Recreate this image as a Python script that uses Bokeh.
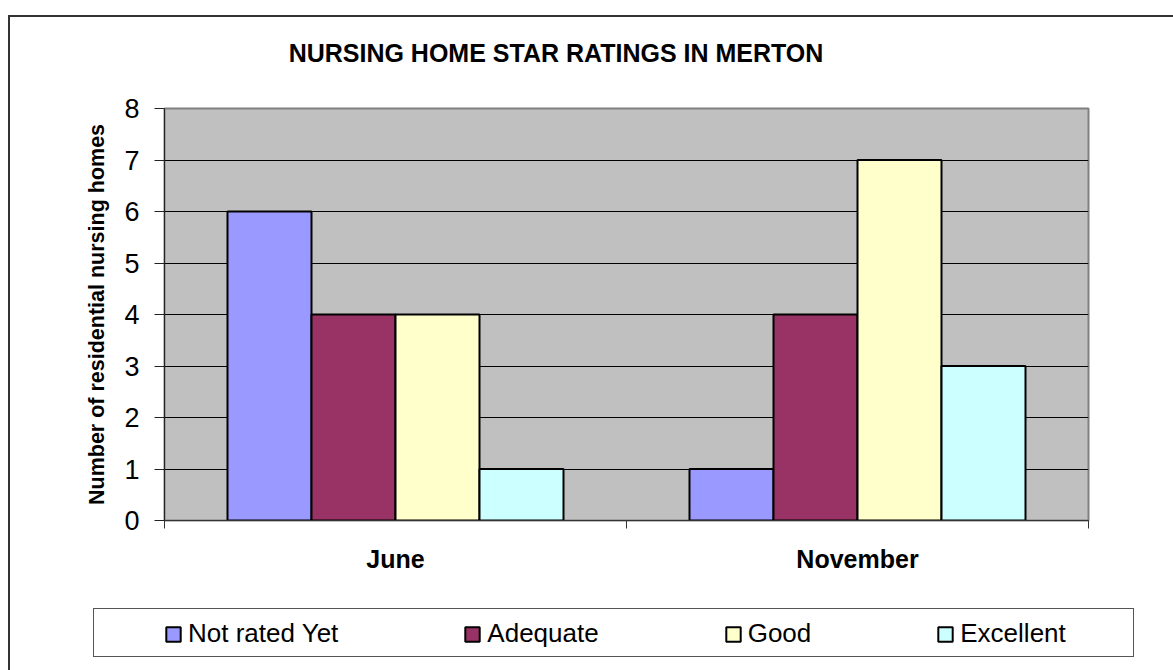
from bokeh.plotting import figure
from bokeh.models import (FactorRange, Range1d, LinearAxis, CategoricalAxis, FixedTicker,
                          Legend, LegendItem, ColumnDataSource, Label, Column)
from bokeh.transform import dodge
from bokeh.embed import file_html
from bokeh.resources import INLINE

# ---- data ----
months = ["June", "November"]
series_names = ["Not rated Yet", "Adequate", "Good", "Excellent"]
not_rated_yet = [6, 1]
adequate = [4, 4]
good = [4, 7]
excellent = [1, 3]
colors = ["#9999FF", "#993366", "#FFFFCC", "#CCFFFF"]
y_ticks = [0, 1, 2, 3, 4, 5, 6, 7, 8]
title_text = "NURSING HOME STAR RATINGS IN MERTON"
y_label = "Number of residential nursing homes"

FONT = "Liberation Sans"
W = 1173
BL, BR = 164, 85          # left / right borders shared by all strips (frames align)

source = ColumnDataSource(dict(months=months, not_rated_yet=not_rated_yet,
                               adequate=adequate, good=good, excellent=excellent))
keys = ["not_rated_yet", "adequate", "good", "excellent"]

# decorative chart-area border and legend box drawn as CSS background lines
def _line(x, y, w, h, c):
    return f"linear-gradient({c},{c}) {x}px {y}px / {w}px {h}px no-repeat"

css_lines = ", ".join([
    _line(8, 15, 2, 700, "#333333"),      # outer border, left
    _line(8, 15, 1200, 2, "#333333"),     # outer border, top
    _line(93, 608, 1041, 1, "#555555"),   # legend box top
    _line(93, 656, 1041, 1, "#555555"),   # legend box bottom
    _line(93, 608, 1, 49, "#555555"),     # legend box left
    _line(1133, 608, 1, 49, "#555555"),   # legend box right
])

# ---------- title strip ----------
TH = 88
pt = figure(width=W, height=TH, x_range=Range1d(BL, W - BR), y_range=Range1d(0, TH),
            output_backend="svg", toolbar_location=None,
            x_axis_location=None, y_axis_location=None,
            min_border_left=BL, min_border_right=BR, min_border_top=0, min_border_bottom=0,
            background_fill_alpha=0, border_fill_alpha=0, outline_line_color=None)
pt.xgrid.visible = False
pt.ygrid.visible = False
pt.add_layout(Label(x=555.5, y=TH - 52, text=title_text, text_align="center",
                    text_baseline="middle", text_font=FONT, text_font_size="25px",
                    text_font_style="bold", text_color="black"))

# ---------- chart ----------
p = figure(width=W, height=492,
           x_range=FactorRange(factors=months, range_padding=0),
           y_range=Range1d(0, 8),
           output_backend="svg", toolbar_location=None,
           x_axis_location=None,
           min_border_left=BL, min_border_right=BR,
           min_border_top=20, min_border_bottom=60,
           background_fill_color="#C0C0C0",
           border_fill_alpha=0)
p.outline_line_color = "#808080"
p.outline_line_width = 2

yax = p.yaxis[0]
yax.ticker = FixedTicker(ticks=y_ticks)
yax.major_label_text_font = FONT
yax.major_label_text_font_size = "27px"
yax.major_label_text_color = "black"
yax.major_tick_out = 10
yax.major_tick_in = 0
yax.minor_tick_line_color = None
yax.major_tick_line_color = "#222222"
yax.axis_line_color = "#222222"
yax.axis_line_width = 1
yax.major_label_standoff = 15
yax.axis_label = y_label
yax.axis_label_text_font = FONT
yax.axis_label_text_font_size = "21.5px"
yax.axis_label_text_font_style = "bold"
yax.axis_label_text_color = "black"
yax.axis_label_standoff = 12

p.xgrid.visible = False
p.ygrid.ticker = FixedTicker(ticks=y_ticks)
p.ygrid.grid_line_color = "black"
p.ygrid.grid_line_width = 1

# category boundary ticks (synthetic coordinates 0, 1, 2 of the factor range)
edge_ticks = list(range(len(months) + 1))
num_axis = LinearAxis(ticker=FixedTicker(ticks=edge_ticks),
                      major_label_overrides={t: "" for t in edge_ticks},
                      major_label_text_font_size="1px", major_label_standoff=0,
                      major_tick_out=8, major_tick_in=0,
                      minor_tick_line_color=None,
                      axis_line_color="#333333", major_tick_line_color="#333333")
p.add_layout(num_axis, "below")

cat_axis = CategoricalAxis(axis_line_color=None, major_tick_line_color=None,
                           minor_tick_line_color=None,
                           major_label_text_font=FONT,
                           major_label_text_font_size="25px",
                           major_label_text_font_style="bold",
                           major_label_text_color="black",
                           major_label_standoff=10)
p.add_layout(cat_axis, "below")

w = 1 / 5.5
offsets = [-1.5 * w, -0.5 * w, 0.5 * w, 1.5 * w]
for key, off, c in zip(keys, offsets, colors):
    p.vbar(x=dodge("months", off, range=p.x_range), top=key, width=w,
           source=source, fill_color=c, line_color="black", line_width=2)

# ---------- legend strip ----------
LH = 90
pl = figure(width=W, height=LH, x_range=FactorRange(factors=months), y_range=Range1d(100, 101),
            output_backend="svg", toolbar_location=None,
            x_axis_location=None, y_axis_location=None,
            min_border_left=BL, min_border_right=BR, min_border_top=0, min_border_bottom=0,
            background_fill_alpha=0, border_fill_alpha=0, outline_line_color=None)
pl.xgrid.visible = False
pl.ygrid.visible = False
swatches = []
for key, c in zip(keys, colors):
    # hidden proxy renderers: they only feed the legend swatches
    swatches.append(pl.vbar(x="months", top=key, width=w, source=source,
                            fill_color=c, line_color="black", line_width=2,
                            visible=False))

legend = Legend(items=[LegendItem(label=n, renderers=[r]) for n, r in zip(series_names, swatches)],
                orientation="horizontal", location=(0, 21), click_policy="none",
                spacing=125, glyph_width=18, glyph_height=18, label_standoff=6,
                label_text_font=FONT, label_text_font_size="26px", label_text_color="black",
                padding=0, margin=0, border_line_color=None, background_fill_alpha=0)
pl.add_layout(legend)

layout = Column(children=[pt, p, pl], spacing=0, styles={"background": css_lines})

open("out.html", "w").write(file_html(layout, INLINE))
